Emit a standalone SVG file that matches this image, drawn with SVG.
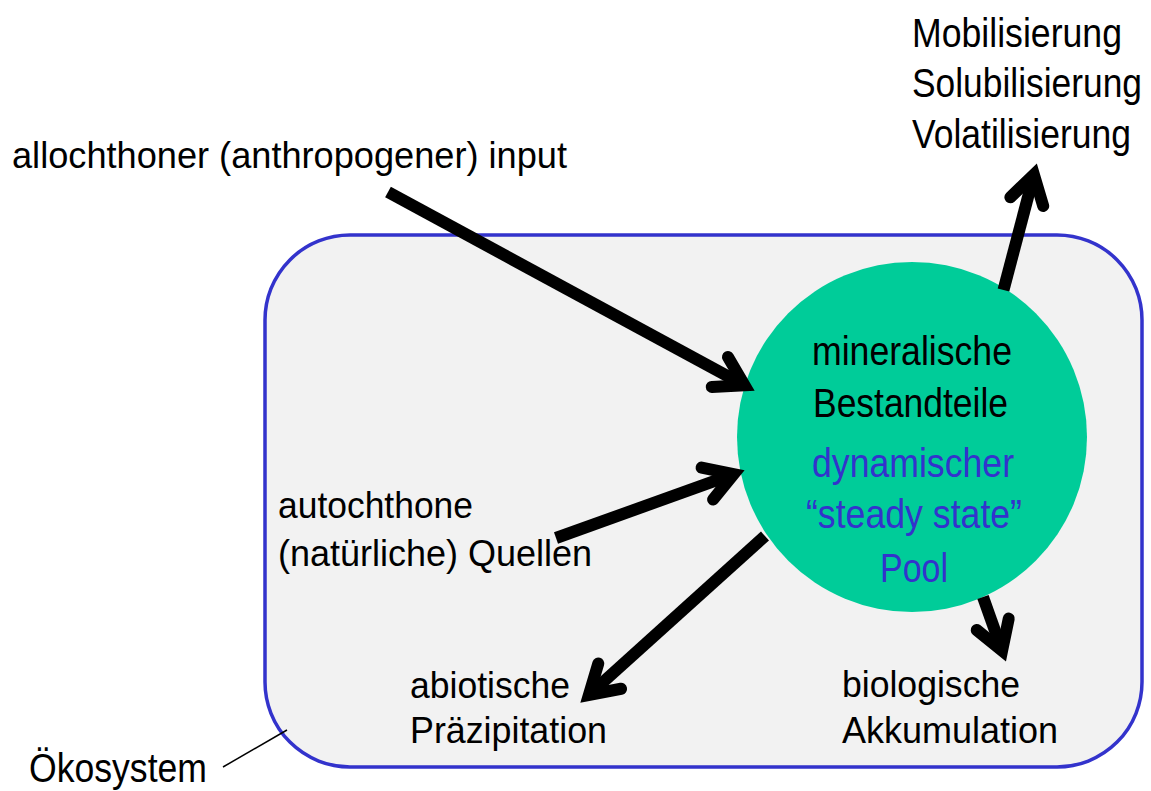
<svg xmlns="http://www.w3.org/2000/svg" width="1151" height="791" viewBox="0 0 1151 791">
<style>
text{font-family:"Liberation Sans Narrow","Liberation Sans",Arial,sans-serif;fill:#000}
.big{font-size:41px}
.mid{font-size:37px}
.blue{fill:#3333cc}
.shaft{fill:none;stroke:#000;stroke-width:12;stroke-linecap:butt}
</style>
<defs>
<marker id="head" markerUnits="userSpaceOnUse" orient="auto" refX="0" refY="0" markerWidth="80" markerHeight="80" viewBox="-40 -40 80 80" overflow="visible">
<path d="M -28,-17 L 0,0 L -28,17" fill="none" stroke="#000" stroke-width="12" stroke-linecap="round" stroke-linejoin="miter" stroke-miterlimit="10"/>
</marker>
</defs>
<rect width="1151" height="791" fill="#fff"/>
<g id="oekosystem">
<rect x="265" y="235" width="877" height="532" rx="85" ry="85" fill="#f2f2f2" stroke="#3333cc" stroke-width="3.5"/>
<line x1="223" y1="767" x2="287" y2="730" stroke="#000" stroke-width="1.5"/>
<text class="big" x="29" y="782" textLength="178" lengthAdjust="spacingAndGlyphs">Ökosystem</text>
</g>
<g id="pool">
<circle cx="912" cy="437" r="175" fill="#00cc99"/>
<text class="big" x="812" y="365" textLength="200" lengthAdjust="spacingAndGlyphs">mineralische</text>
<text class="big" x="813" y="417" textLength="195" lengthAdjust="spacingAndGlyphs">Bestandteile</text>
<text class="big blue" x="812" y="477" textLength="202" lengthAdjust="spacingAndGlyphs">dynamischer</text>
<text class="big blue" x="806" y="528" textLength="216" lengthAdjust="spacingAndGlyphs">“steady state”</text>
<text class="big blue" x="880" y="582" textLength="68" lengthAdjust="spacingAndGlyphs">Pool</text>
</g>
<g id="allochthon">
<text class="mid" x="12" y="168" textLength="555" lengthAdjust="spacingAndGlyphs">allochthoner (anthropogener) input</text>
</g>
<g id="autochthon">
<text class="mid" x="278" y="518" textLength="195" lengthAdjust="spacingAndGlyphs">autochthone</text>
<text class="mid" x="278" y="566" textLength="314" lengthAdjust="spacingAndGlyphs">(natürliche) Quellen</text>
</g>
<g id="mobilisierung">
<text class="big" x="912" y="47" textLength="210" lengthAdjust="spacingAndGlyphs">Mobilisierung</text>
<text class="big" x="912" y="97" textLength="230" lengthAdjust="spacingAndGlyphs">Solubilisierung</text>
<text class="big" x="912" y="148" textLength="219" lengthAdjust="spacingAndGlyphs">Volatilisierung</text>
</g>
<g id="praezipitation">
<text class="mid" x="410" y="698" textLength="160" lengthAdjust="spacingAndGlyphs">abiotische</text>
<text class="mid" x="410" y="743" textLength="197" lengthAdjust="spacingAndGlyphs">Präzipitation</text>
</g>
<g id="akkumulation">
<text class="mid" x="842" y="697" textLength="178" lengthAdjust="spacingAndGlyphs">biologische</text>
<text class="mid" x="842" y="743" textLength="216" lengthAdjust="spacingAndGlyphs">Akkumulation</text>
</g>
<g id="connectors">
<line class="shaft" x1="388" y1="192" x2="744.5" y2="385.3" marker-end="url(#head)"/>
<line class="shaft" x1="556" y1="538" x2="733.7" y2="474.1" marker-end="url(#head)"/>
<line class="shaft" x1="1003.5" y1="290" x2="1033.9" y2="174.6" marker-end="url(#head)"/>
<line class="shaft" x1="765" y1="536" x2="588.9" y2="694.9" marker-end="url(#head)"/>
<line class="shaft" x1="983" y1="597" x2="1002.1" y2="650.7" marker-end="url(#head)"/>
</g>
</svg>
